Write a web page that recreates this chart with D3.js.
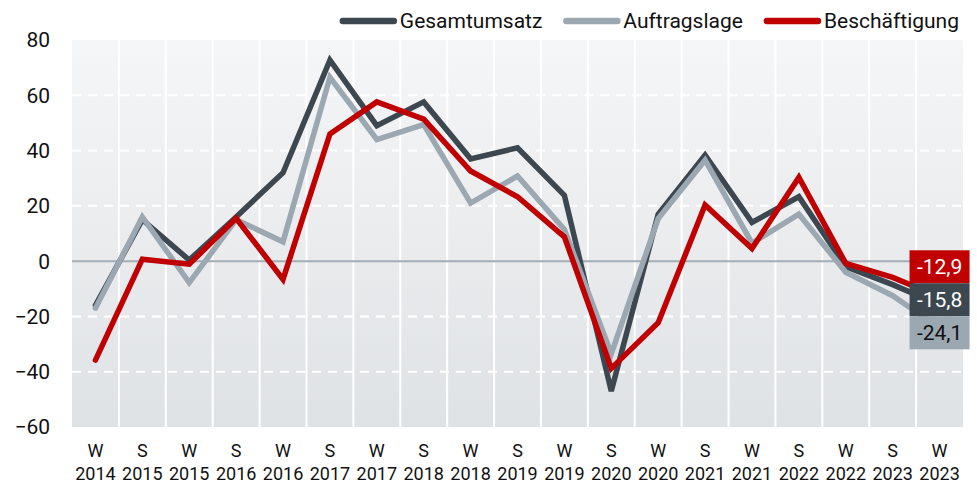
<!DOCTYPE html>
<html>
<head>
<meta charset="utf-8">
<script src="https://cdn.jsdelivr.net/npm/d3@7"></script>
<style>
  html, body { margin: 0; padding: 0; background: #fff; }
  svg { display: block; font-family: Roboto, "Noto Sans", sans-serif; }
</style>
</head>
<body>
<svg id="chart" width="977" height="483"></svg>
<script>
// ---- data ----
const seasons = ["W","S","W","S","W","S","W","S","W","S","W","S","W","S","W","S","W","S","W"];
const years   = ["2014","2015","2015","2016","2016","2017","2017","2018","2018","2019","2019","2020","2020","2021","2021","2022","2022","2023","2023"];
const gesamtumsatz  = [-16, 15, 0.4, 16, 32, 72.7, 49, 57.6, 37, 41, 23.8, -47, 17, 38.4, 14, 23.3, -2, -8.5, -15.8];
const auftragslage  = [-17, 16, -7.8, 15, 7, 66.5, 44, 49.4, 21, 30.8, 11.5, -33.5, 15.4, 36.5, 6.5, 17, -4, -12.5, -24.1];
const beschaeftigung = [-35.8, 0.7, -1.1, 15.5, -6.6, 46, 57.6, 51.4, 32.6, 23.3, 8.8, -38.8, -22.3, 20.3, 4.6, 30.3, -0.8, -5.9, -12.9];
const seriesNames = ["Gesamtumsatz", "Auftragslage", "Beschäftigung"];
const yTicks = [-60, -40, -20, 0, 20, 40, 60, 80];
const endLabels = ["-12,9", "-15,8", "-24,1"];

// ---- layout ----
const colors = { "Gesamtumsatz": "#3d4750", "Auftragslage": "#9ba7b1", "Beschäftigung": "#c00000" };
const L = 72, R = 963, T = 40, B = 427;
const svg = d3.select("#chart");
const cats = seasons.map((s, i) => i);
const x = d3.scaleBand().domain(cats).range([L, R]).padding(0);
const y = d3.scaleLinear().domain([-60, 80]).range([B, T]);
const cx = i => x(i) + x.bandwidth() / 2;

// background gradient
const defs = svg.append("defs");
const grad = defs.append("linearGradient").attr("id", "bg").attr("x1", 0).attr("y1", 0).attr("x2", 0).attr("y2", 1);
grad.append("stop").attr("offset", "0%").attr("stop-color", "#f5f6f7");
grad.append("stop").attr("offset", "100%").attr("stop-color", "#dfe2e5");
svg.append("rect").attr("x", L).attr("y", T).attr("width", R - L).attr("height", B - T).attr("fill", "url(#bg)");

// vertical separators
svg.append("g").selectAll("line").data(cats.slice(1)).join("line")
  .attr("x1", d => x(d)).attr("x2", d => x(d)).attr("y1", T).attr("y2", B)
  .attr("stroke", "#fff").attr("stroke-width", 2);

// horizontal dashed grid
svg.append("g").selectAll("line").data(yTicks.filter(v => v !== 0 && v !== 80 && v !== -60)).join("line")
  .attr("x1", L).attr("x2", R).attr("y1", d => y(d)).attr("y2", d => y(d))
  .attr("stroke", "#fff").attr("stroke-width", 2).attr("stroke-dasharray", "9,7");

// zero line
svg.append("line").attr("x1", L).attr("x2", R).attr("y1", y(0)).attr("y2", y(0))
  .attr("stroke", "#a4acb4").attr("stroke-width", 2);

// y axis
const yAxis = d3.axisLeft(y).tickValues(yTicks).tickSize(0).tickPadding(0).tickFormat(d3.format("d"));
const gy = svg.append("g").attr("transform", `translate(50,0)`).call(yAxis);
gy.select(".domain").remove();
gy.selectAll("text").attr("font-size", 21).attr("fill", "#111").attr("font-family", "Roboto").attr("dy", "0.33em");

// x axis (two-line labels)
const xAxis = d3.axisBottom(x).tickSize(0).tickFormat("");
const gx = svg.append("g").attr("transform", `translate(0,${B})`).call(xAxis);
gx.select(".domain").remove();
gx.selectAll(".tick").each(function(d) {
  const t = d3.select(this).append("text").attr("fill", "#111").attr("font-size", 18)
    .attr("font-family", "Roboto").attr("text-anchor", "middle");
  t.append("tspan").attr("x", 0).attr("y", 24).attr("dy", "0.35em").text(seasons[d]);
  t.append("tspan").attr("x", 0).attr("y", 47).attr("dy", "0.35em").text(years[d]);
});

// lines
const data = { "Gesamtumsatz": gesamtumsatz, "Auftragslage": auftragslage, "Beschäftigung": beschaeftigung };
const line = d3.line().x((d, i) => cx(i)).y(d => y(d));
seriesNames.forEach(name => {
  svg.append("path").datum(data[name]).attr("d", line)
    .attr("fill", "none").attr("stroke", colors[name]).attr("stroke-width", 5.5)
    .attr("stroke-linejoin", "miter").attr("stroke-linecap", "round");
});

// end labels (stacked)
const order = ["Beschäftigung", "Gesamtumsatz", "Auftragslage"];
const boxH = 33, boxW = 60;
const lastIdx = seasons.length - 1;
const meanY = d3.mean(order, n => y(data[n][lastIdx]));
const top0 = meanY - 10 - boxH * order.length / 2;
const lx = cx(lastIdx);
order.forEach((n, k) => {
  const by = top0 + k * boxH;
  svg.append("rect").attr("x", lx - boxW / 2).attr("y", by).attr("width", boxW).attr("height", boxH)
    .attr("fill", colors[n]);
  svg.append("text").attr("x", lx).attr("y", by + boxH / 2).attr("dy", "0.35em")
    .attr("text-anchor", "middle").attr("font-size", 21).attr("font-family", "Roboto")
    .attr("fill", n === "Auftragslage" ? "#111" : "#fff")
    .text(endLabels[k]);
});

// legend
const legFont = 21;
const legY = 21, swW = 57, gapT = 3, gapItem = 21, legRight = 959;
const lg = svg.append("g");
const widths = seriesNames.map(n => {
  const t = lg.append("text").attr("font-size", legFont).attr("font-family", "Roboto").text(n);
  const w = t.node().getComputedTextLength(); t.remove(); return w;
});
const total = d3.sum(widths) + seriesNames.length * (swW + gapT) + (seriesNames.length - 1) * gapItem;
let lxp = legRight - total;
seriesNames.forEach((n, k) => {
  lg.append("line").attr("x1", lxp + 3).attr("x2", lxp + swW - 3).attr("y1", legY).attr("y2", legY)
    .attr("stroke", colors[n]).attr("stroke-width", 6.5).attr("stroke-linecap", "round");
  lg.append("text").attr("x", lxp + swW + gapT).attr("y", legY).attr("dy", "0.35em")
    .attr("font-size", legFont).attr("font-family", "Roboto").attr("fill", "#111").text(n);
  lxp += swW + gapT + widths[k] + gapItem;
});
</script>
</body>
</html>
